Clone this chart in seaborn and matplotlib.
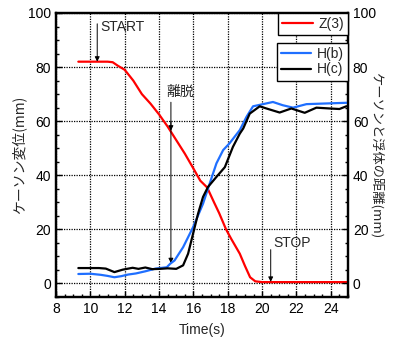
import matplotlib
matplotlib.use("Agg")
import matplotlib.pyplot as plt
import seaborn as sns
import pandas as pd
from matplotlib.ticker import MultipleLocator
from matplotlib.lines import Line2D

# Data
z3_t = [9.3, 10.0, 11.0, 11.3, 11.6, 12.0, 12.5, 13.0, 13.5, 14.0, 14.5, 15.0, 15.5, 16.0,
        16.4, 16.8, 17.2, 17.5, 17.9, 18.2, 18.7, 19.0, 19.3, 19.6, 20.0, 21.0, 22.0, 23.0, 24.0, 25.0]
z3_v = [82, 82, 82, 81.8, 80.5, 79, 75, 70, 66.5, 62.5, 58, 53, 48, 42.5,
        38, 35.5, 30, 26, 20, 16.5, 11, 6.5, 2.3, 0.8, 0.5, 0.5, 0.5, 0.5, 0.5, 0.5]

hb_t = [9.3, 10.0, 10.6, 11.0, 11.4, 11.8, 12.2, 12.65, 13.2, 13.8, 14.45, 14.65, 14.9, 15.4,
        15.98, 16.56, 16.95, 17.34, 17.73, 18.1, 18.7, 19.09, 19.47, 20.05, 20.63, 21.2,
        21.8, 22.58, 23.5, 24.9, 25.0]
hb_v = [3.5, 3.6, 3.2, 2.8, 2.3, 2.7, 3.3, 3.7, 4.5, 5.5, 6.0, 7.3, 8.5, 13.4,
        20.8, 29.5, 37, 44.4, 49.3, 51.8, 56.7, 61.6, 65.5, 66.3, 67.1, 65.9,
        65.0, 66.3, 66.5, 66.8, 66.8]

hc_t = [9.3, 10.0, 10.5, 10.9, 11.4, 11.88, 12.46, 12.8, 13.2, 13.6, 14.05, 14.5, 15.0, 15.4,
        15.69, 15.98, 16.27, 16.56, 16.85, 17.34, 17.83, 18.3, 18.7, 18.9, 19.28, 19.86,
        20.25, 21.02, 21.7, 22.48, 23.16, 23.93, 24.5, 24.9, 25.0]
hc_v = [5.7, 5.7, 5.7, 5.5, 4.2, 5.1, 5.8, 5.4, 5.9, 5.3, 5.4, 5.6, 5.4, 6.7,
        11, 18.4, 25.8, 32, 35.7, 39.4, 43, 50.5, 55.4, 57.3, 62.8, 65.5,
        64.7, 63.2, 64.7, 63.1, 65, 64.7, 64.5, 65.5, 65.5]

x_ticks = [8, 10, 12, 14, 16, 18, 20, 22, 24]
y_ticks = [0, 20, 40, 60, 80, 100]

sns.set_style("ticks")
plt.rcParams["font.family"] = ["Liberation Sans", "Noto Sans CJK JP", "DejaVu Sans"]
jp = ["Noto Sans CJK JP", "DejaVu Sans"]

fig = plt.figure(figsize=(3.93, 3.42), dpi=100)
ax = fig.add_axes([0.1425, 0.1316, 0.743, 0.8304])

df_z = pd.DataFrame({"t": z3_t, "v": z3_v})
df_b = pd.DataFrame({"t": hb_t, "v": hb_v})
df_c = pd.DataFrame({"t": hc_t, "v": hc_v})

sns.lineplot(data=df_z, x="t", y="v", ax=ax, color="#ff0000", lw=1.6, zorder=3)
sns.lineplot(data=df_b, x="t", y="v", ax=ax, color="#1f6fff", lw=1.6, zorder=4)
sns.lineplot(data=df_c, x="t", y="v", ax=ax, color="black", lw=1.6, zorder=5)

ax.set_xlim(8, 25)
ax.set_ylim(-5, 100)
ax.set_xticks(x_ticks)
ax.set_yticks(y_ticks)
ax.xaxis.set_minor_locator(MultipleLocator(0.5))
ax.yaxis.set_minor_locator(MultipleLocator(5))
ax.grid(True, which="major", color="black", linestyle=(0, (1, 1)), lw=0.9)
ax.tick_params(which="both", direction="in", labelsize=10, colors="black")
ax.tick_params(which="major", length=4, width=1)
ax.tick_params(which="minor", length=2.5, width=1)
for s in ax.spines.values():
    s.set_linewidth(1.6)
    s.set_color("black")
ax.set_xlabel("Time(s)", fontsize=10, labelpad=5)
ax.set_ylabel("ケーソン変位(mm)", fontsize=10, family=jp, labelpad=1)

ax2 = ax.twinx()
ax2.set_ylim(-5, 100)
ax2.set_yticks(y_ticks)
ax2.yaxis.set_minor_locator(MultipleLocator(5))
ax2.tick_params(which="both", direction="in", labelsize=10, colors="black")
ax2.tick_params(which="major", length=4, width=1)
ax2.tick_params(which="minor", length=2.5, width=1)
ax2.set_ylabel("ケーソンと浮体の距離(mm)", fontsize=9.5, family=jp, rotation=270, labelpad=5)
for s in ax2.spines.values():
    s.set_linewidth(1.6)
    s.set_color("black")

# Legends
h1 = [Line2D([], [], color="#ff0000", lw=1.6)]
leg1 = ax2.legend(h1, ["Z(3)"], loc="upper right", bbox_to_anchor=(1.0, 1.0),
                  borderaxespad=0.0, frameon=True, fancybox=False, framealpha=1,
                  edgecolor="black", fontsize=10, handlelength=2.2, handletextpad=0.4,
                  borderpad=0.3)
ax2.add_artist(leg1)
h2 = [Line2D([], [], color="#1f6fff", lw=1.6), Line2D([], [], color="black", lw=1.6)]
ax2.legend(h2, ["H(b)", "H(c)"], loc="upper right", bbox_to_anchor=(1.0, 0.895),
           borderaxespad=0.0, frameon=True, fancybox=False, framealpha=1,
           edgecolor="black", fontsize=10, handlelength=2.2, handletextpad=0.4,
           borderpad=0.3, labelspacing=0.1)

# Annotations
ap = dict(arrowstyle="-|>", color="black", lw=0.7, mutation_scale=7, shrinkA=0, shrinkB=0)
ax.annotate("", xy=(10.4, 82), xytext=(10.4, 96), arrowprops=ap)
ax.text(10.6, 95, "START", fontsize=10, va="center", ha="left")
ax.text(14.45, 71, "離脱", fontsize=10, va="center", ha="left", family=jp)
ax.annotate("", xy=(14.69, 7.5), xytext=(14.69, 67), arrowprops=ap)
ax.annotate("", xy=(14.69, 56.5), xytext=(14.69, 60), arrowprops=ap)
ax.annotate("", xy=(20.5, 0.6), xytext=(20.5, 12.5), arrowprops=ap)
ax.text(20.65, 15, "STOP", fontsize=10, va="center", ha="left")

fig.savefig("out.png", dpi=100)
